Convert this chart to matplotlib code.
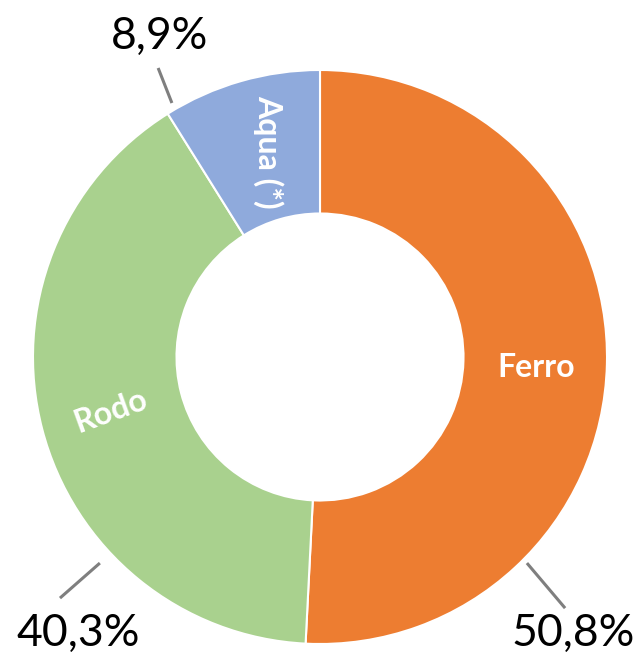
import numpy as np
import matplotlib
matplotlib.use("Agg")
import matplotlib.pyplot as plt

plt.rcParams["font.family"] = ["Lato", "DejaVu Sans"]

CATEGORIES = ["Ferro", "Rodo", "Aqua (*)"]
SHARES = [50.8, 40.3, 8.9]
COLORS = ["#ED7D31", "#A9D18E", "#8FAADC"]
PCT_LABELS = ["50,8%", "40,3%", "8,9%"]

# layout of inner labels: (x, y, rotation) in data units of the unit donut
INNER_POS = [(0.752, -0.035, 0), (-0.73, -0.19, 20), (-0.18, 0.715, -90)]
# leader line start/end and text position for the outer percentages
LEADERS = [
    ((0.721, -0.718), (0.854, -0.875), (0.882, -0.962)),
    ((-0.767, -0.718), (-0.906, -0.840), (-0.843, -0.962)),
    ((-0.516, 0.885), (-0.564, 1.007), (-0.56, 1.118)),
]

fig = plt.figure(figsize=(6.37, 6.58), dpi=100)
ax = fig.add_axes([0, 0, 1, 1])

ax.pie(
    SHARES,
    colors=COLORS,
    startangle=90,
    counterclock=False,
    radius=1.0,
    wedgeprops=dict(width=0.5, edgecolor="white", linewidth=1.5),
)

for (x, y, rot), name in zip(INNER_POS, CATEGORIES):
    ax.text(x, y, name, ha="center", va="center", rotation=rot,
            color="white", fontsize=23, fontweight="bold")

for (p0, p1, pt), lab in zip(LEADERS, PCT_LABELS):
    ax.plot([p0[0], p1[0]], [p0[1], p1[1]], color="#7F7F7F", lw=2.2,
            solid_capstyle="butt")
    ax.text(pt[0], pt[1], lab, ha="center", va="center", fontsize=32,
            color="black")

ax.set_xlim(-320 / 287, (637 - 320) / 287)
ax.set_ylim(-(658 - 357) / 287, 357 / 287)
ax.set_aspect("auto")
ax.axis("off")

fig.savefig("out.png", dpi=100)
